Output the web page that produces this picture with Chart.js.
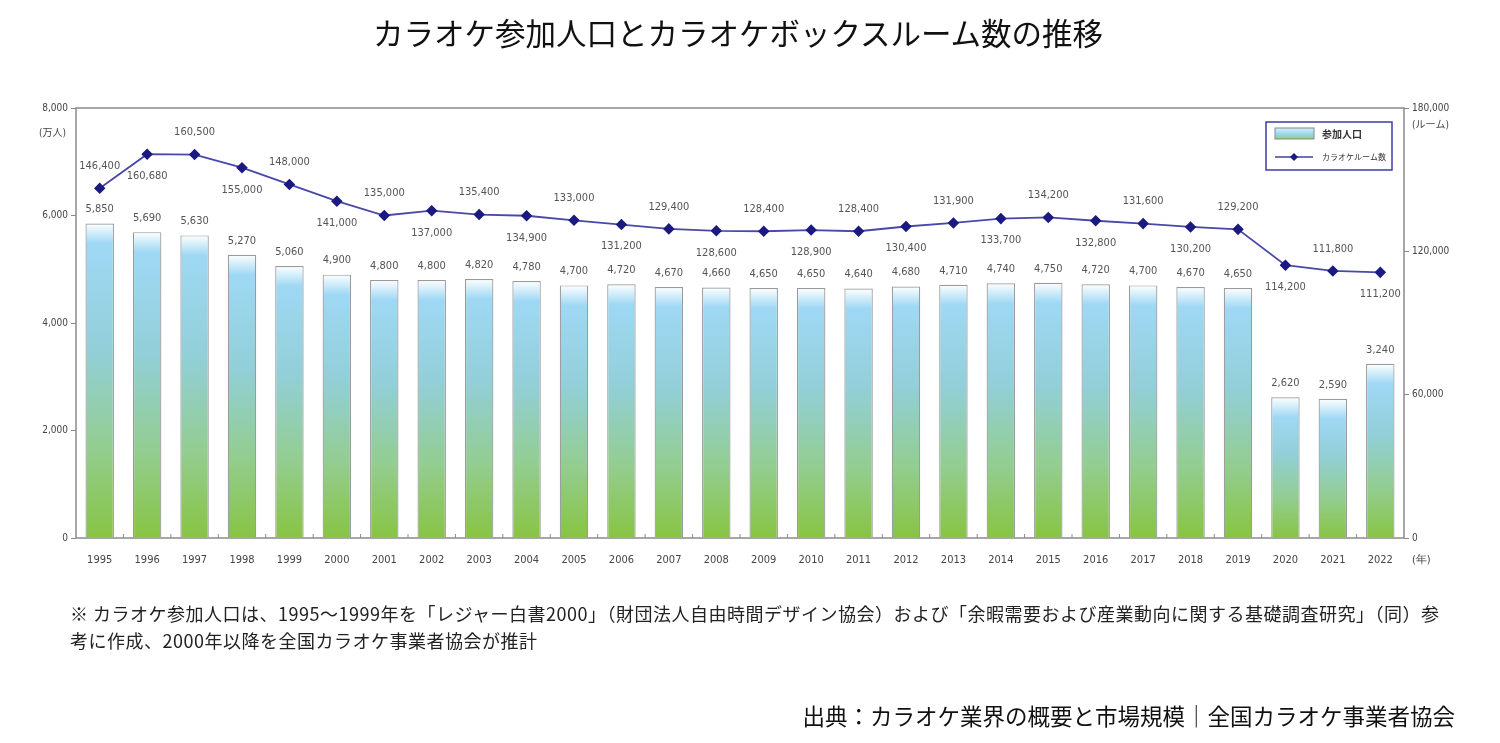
<!DOCTYPE html>
<html lang="ja">
<head>
<meta charset="utf-8">
<script src="https://cdn.jsdelivr.net/npm/chart.js@4/dist/chart.umd.min.js"></script>
<style>
  body { margin: 0; background: #fff; font-family: 'Noto Sans CJK JP', sans-serif; }
  #wrap { position: relative; width: 1500px; height: 743px; overflow: hidden; }
  #chart { position: absolute; left: 0; top: 0; }
  .title { position: absolute; left: 0; width: 1476px; top: 10px; text-align: center; font-size: 30.5px; color: #111; }
  .note { position: absolute; left: 70px; top: 600px; font-size: 18px; letter-spacing: 0.5px; line-height: 27px; color: #222; white-space: nowrap; }
  .source { position: absolute; right: 45px; top: 699px; font-size: 22.5px; color: #111; white-space: nowrap; }
</style>
</head>
<body>
<div id="wrap">
  <canvas id="chart" width="1500" height="743"></canvas>
  <div class="title">カラオケ参加人口とカラオケボックスルーム数の推移</div>
  <div class="note">※ カラオケ参加人口は、1995～1999年を「レジャー白書2000」（財団法人自由時間デザイン協会）および「余暇需要および産業動向に関する基礎調査研究」（同）参<br>考に作成、2000年以降を全国カラオケ事業者協会が推計</div>
  <div class="source">出典：カラオケ業界の概要と市場規模｜全国カラオケ事業者協会</div>
</div>
<script>
var years = ['1995', '1996', '1997', '1998', '1999', '2000', '2001', '2002', '2003', '2004',
  '2005', '2006', '2007', '2008', '2009', '2010', '2011', '2012', '2013', '2014',
  '2015', '2016', '2017', '2018', '2019', '2020', '2021', '2022'];
// 参加人口 (万人)
var participants = [5850, 5690, 5630, 5270, 5060, 4900, 4800, 4800, 4820, 4780,
  4700, 4720, 4670, 4660, 4650, 4650, 4640, 4680, 4710, 4740,
  4750, 4720, 4700, 4670, 4650, 2620, 2590, 3240];
// カラオケルーム数
var rooms = [146400, 160680, 160500, 155000, 148000, 141000, 135000, 137000, 135400, 134900,
  133000, 131200, 129400, 128600, 128400, 128900, 128400, 130400, 131900, 133700,
  134200, 132800, 131600, 130200, 129200, 114200, 111800, 111200];
var leftTicks = [0, 2000, 4000, 6000, 8000];
var rightTicks = [0, 60000, 120000, 180000];

var labelFont = '11px "DejaVu Sans Condensed", "Noto Sans", sans-serif';
var fmt = function (v) { return v.toLocaleString('en-US'); };

function barGradient(c) {
  var chart = c.chart;
  if (!chart.chartArea || c.type !== 'data') return '#9fd8f2';
  var y = chart.scales.y;
  var top = y.getPixelForValue(c.raw);
  var base = y.getPixelForValue(0);
  var h = Math.max(base - top, 1);
  var g = chart.ctx.createLinearGradient(0, top, 0, base);
  g.addColorStop(0, '#ffffff');
  g.addColorStop(Math.min(5 / h, 0.5), '#e6f5fc');
  g.addColorStop(Math.min(20 / h, 0.6), '#9fd8f4');
  g.addColorStop(0.4, '#92cfd8');
  g.addColorStop(0.72, '#93cd8f');
  g.addColorStop(1, '#88c443');
  return g;
}

// frame round the plot area
var framePlugin = {
  id: 'frame',
  beforeDatasetsDraw: function (chart) {
    var a = chart.chartArea, ctx = chart.ctx;
    ctx.save();
    ctx.strokeStyle = '#8a8a8a';
    ctx.lineWidth = 1.5;
    ctx.strokeRect(a.left, a.top, a.right - a.left, a.bottom - a.top);
    // small ticks between categories on the bottom axis
    var x = chart.scales.x;
    ctx.lineWidth = 1;
    for (var i = 0; i < years.length - 1; i++) {
      var px = (x.getPixelForValue(i) + x.getPixelForValue(i + 1)) / 2;
      ctx.beginPath();
      ctx.moveTo(px, a.bottom);
      ctx.lineTo(px, a.bottom - 4);
      ctx.stroke();
    }
    ctx.restore();
  }
};

// value labels, unit labels and legend
var labelPlugin = {
  id: 'labels',
  afterDatasetsDraw: function (chart) {
    var ctx = chart.ctx, a = chart.chartArea;
    ctx.save();
    ctx.font = labelFont;
    ctx.fillStyle = '#555';
    ctx.textAlign = 'center';
    ctx.textBaseline = 'middle';
    chart.getDatasetMeta(0).data.forEach(function (bar, i) {
      ctx.fillText(fmt(participants[i]), bar.x, bar.y - 14);
    });
    chart.getDatasetMeta(1).data.forEach(function (pt, i) {
      var dy = i % 2 === 0 ? -22 : 22;
      ctx.fillText(fmt(rooms[i]), pt.x, pt.y + dy);
    });

    // units
    ctx.font = '10px "DejaVu Sans Condensed", "Noto Sans CJK JP", sans-serif';
    ctx.fillStyle = '#444';
    ctx.textAlign = 'right';
    ctx.fillText('(万人)', a.left - 10, a.top + 25);
    ctx.textAlign = 'left';
    ctx.fillText('(ルーム)', a.right + 8, a.top + 17);
    ctx.font = labelFont;
    ctx.fillText('(年)', a.right + 8, a.bottom + 22);

    // year labels under each category
    var x = chart.scales.x;
    ctx.textAlign = 'center';
    years.forEach(function (yr, i) {
      ctx.fillText(yr, x.getPixelForValue(i), a.bottom + 22);
    });

    // legend
    var lx = a.right - 138, ly = a.top + 14, lw = 126, lh = 48;
    ctx.fillStyle = '#fff';
    ctx.fillRect(lx, ly, lw, lh);
    ctx.strokeStyle = '#3b3bb0';
    ctx.lineWidth = 1.5;
    ctx.strokeRect(lx, ly, lw, lh);
    var sg = ctx.createLinearGradient(0, ly + 6, 0, ly + 17);
    sg.addColorStop(0, '#d8f0fb');
    sg.addColorStop(0.5, '#9fd8f4');
    sg.addColorStop(1, '#8fcf7a');
    ctx.fillStyle = sg;
    ctx.fillRect(lx + 9, ly + 6, 39, 11);
    ctx.strokeStyle = '#888';
    ctx.lineWidth = 1;
    ctx.strokeRect(lx + 9, ly + 6, 39, 11);
    ctx.strokeStyle = '#4040a8';
    ctx.lineWidth = 1.5;
    ctx.beginPath();
    ctx.moveTo(lx + 9, ly + 35);
    ctx.lineTo(lx + 47, ly + 35);
    ctx.stroke();
    ctx.fillStyle = '#1a1a80';
    ctx.beginPath();
    ctx.moveTo(lx + 28, ly + 31);
    ctx.lineTo(lx + 32, ly + 35);
    ctx.lineTo(lx + 28, ly + 39);
    ctx.lineTo(lx + 24, ly + 35);
    ctx.closePath();
    ctx.fill();
    ctx.fillStyle = '#333';
    ctx.textAlign = 'left';
    ctx.font = 'bold 10px "Noto Sans CJK JP", sans-serif';
    ctx.fillText(chart.data.datasets[0].label, lx + 56, ly + 12);
    ctx.font = '8px "Noto Sans CJK JP", sans-serif';
    ctx.fillText(chart.data.datasets[1].label, lx + 56, ly + 35);
    ctx.restore();
  }
};

var ctx = document.getElementById('chart').getContext('2d');
var karaokeChart = new Chart(ctx, {
  data: {
    labels: years,
    datasets: [{
      type: 'bar',
      label: '参加人口',
      data: participants,
      yAxisID: 'y',
      backgroundColor: barGradient,
      borderColor: '#9a9a9a',
      borderWidth: 1.2,
      barPercentage: 0.6,
      categoryPercentage: 1,
      order: 2
    }, {
      type: 'line',
      label: 'カラオケルーム数',
      data: rooms,
      yAxisID: 'y2',
      borderColor: '#4848aa',
      borderWidth: 1.8,
      pointStyle: 'rectRot',
      pointRadius: 4.5,
      pointBackgroundColor: '#1a1a80',
      pointBorderColor: '#1a1a80',
      tension: 0,
      order: 1
    }]
  },
  options: {
    responsive: false,
    animation: false,
    layout: { padding: { top: 108, bottom: 175, left: 0, right: 0 } },
    plugins: { legend: { display: false }, tooltip: { enabled: false } },
    scales: {
      x: {
        grid: { display: false },
        border: { display: false },
        ticks: { display: false },
        afterFit: function (s) { s.height = 30; }
      },
      y: {
        position: 'left',
        min: 0, max: 8000,
        afterBuildTicks: function (s) { s.ticks = leftTicks.map(function (v) { return { value: v }; }); },
        grid: { drawOnChartArea: false, color: '#888', tickLength: 5 },
        border: { display: false },
        ticks: { color: '#444', font: { family: '"DejaVu Sans Condensed", sans-serif', size: 10 }, padding: 3, callback: function (v) { return fmt(v); } },
        afterFit: function (s) { s.width = 76; }
      },
      y2: {
        position: 'right',
        min: 0, max: 180000,
        afterBuildTicks: function (s) { s.ticks = rightTicks.map(function (v) { return { value: v }; }); },
        grid: { drawOnChartArea: false, color: '#888', tickLength: 5 },
        border: { display: false },
        ticks: { color: '#444', font: { family: '"DejaVu Sans Condensed", sans-serif', size: 10 }, padding: 3, callback: function (v) { return fmt(v); } },
        afterFit: function (s) { s.width = 96; }
      }
    }
  },
  plugins: [framePlugin, labelPlugin]
});
</script>
</body>
</html>
